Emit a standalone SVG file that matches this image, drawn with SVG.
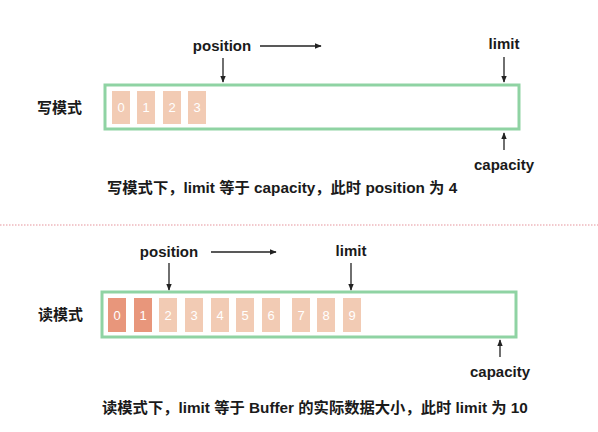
<svg xmlns="http://www.w3.org/2000/svg" width="598" height="432" viewBox="0 0 598 432">
<style>
.t{font-family:"Liberation Sans","Noto Sans CJK SC",sans-serif;font-weight:bold;font-size:15px;fill:#1a1a1a}
.cap{font-size:15.3px}
.c{fill:#f2cbb4}
.d{fill:#e8967b}
.n{font-family:"Liberation Sans",sans-serif;font-size:13px;fill:#fff;text-anchor:middle}
.box{fill:none;stroke:#8fd3a3;stroke-width:3}
.a{stroke:#222;stroke-width:1.3;fill:none}
</style>
<defs>
<marker id="ah" viewBox="0 0 10 10" refX="9" refY="5" markerWidth="7" markerHeight="7" orient="auto" markerUnits="userSpaceOnUse">
<path d="M0,1 L10,5 L0,9 z" fill="#222"/>
</marker>
</defs>
<rect width="598" height="432" fill="#fff"/>

<g id="write-mode">
<text class="t" x="37" y="113" font-size="16">写模式</text>
<rect class="box" x="105" y="85" width="414" height="44"/>
<g id="w-cells">
<rect class="c" x="112" y="91" width="18" height="33"/><text class="n" x="121" y="112">0</text>
<rect class="c" x="137" y="91" width="18" height="33"/><text class="n" x="146" y="112">1</text>
<rect class="c" x="163" y="91" width="18" height="33"/><text class="n" x="172" y="112">2</text>
<rect class="c" x="188" y="91" width="18" height="33"/><text class="n" x="197" y="112">3</text>
</g>
<text class="t" x="222" y="51" text-anchor="middle">position</text>
<text class="t" x="504" y="49" text-anchor="middle">limit</text>
<text class="t" x="504" y="170" text-anchor="middle">capacity</text>
<text class="t cap" x="107" y="193">写模式下，limit 等于 capacity，此时 position 为 4</text>
</g>

<line x1="0" y1="225" x2="598" y2="225" stroke="#e5939b" stroke-width="1" stroke-dasharray="1.5,1.5"/>

<g id="read-mode">
<text class="t" x="38" y="320" font-size="16">读模式</text>
<rect class="box" x="102" y="292" width="414" height="45"/>
<g id="r-cells">
<rect class="d" x="108" y="298" width="18" height="34"/><text class="n" x="117" y="320">0</text>
<rect class="d" x="134" y="298" width="18" height="34"/><text class="n" x="143" y="320">1</text>
<rect class="c" x="159" y="298" width="18" height="34"/><text class="n" x="168" y="320">2</text>
<rect class="c" x="185" y="298" width="18" height="34"/><text class="n" x="194" y="320">3</text>
<rect class="c" x="211" y="298" width="18" height="34"/><text class="n" x="220" y="320">4</text>
<rect class="c" x="236" y="298" width="18" height="34"/><text class="n" x="245" y="320">5</text>
<rect class="c" x="262" y="298" width="18" height="34"/><text class="n" x="271" y="320">6</text>
<rect class="c" x="292" y="298" width="18" height="34"/><text class="n" x="301" y="320">7</text>
<rect class="c" x="317" y="298" width="18" height="34"/><text class="n" x="326" y="320">8</text>
<rect class="c" x="343" y="298" width="18" height="34"/><text class="n" x="352" y="320">9</text>
</g>
<text class="t" x="169" y="257" text-anchor="middle">position</text>
<text class="t" x="351" y="256" text-anchor="middle">limit</text>
<text class="t" x="500" y="377" text-anchor="middle">capacity</text>
<text class="t cap" x="102" y="413">读模式下，limit 等于 Buffer 的实际数据大小，此时 limit 为 10</text>
</g>

<g id="connectors">
<line class="a" x1="260" y1="46" x2="321" y2="46" marker-end="url(#ah)"/>
<line class="a" x1="223" y1="58" x2="223" y2="82" marker-end="url(#ah)"/>
<line class="a" x1="504" y1="57" x2="504" y2="82" marker-end="url(#ah)"/>
<line class="a" x1="504" y1="150" x2="504" y2="133" marker-end="url(#ah)"/>
<line class="a" x1="211" y1="252" x2="276" y2="252" marker-end="url(#ah)"/>
<line class="a" x1="169" y1="263" x2="169" y2="290" marker-end="url(#ah)"/>
<line class="a" x1="351" y1="263" x2="351" y2="290" marker-end="url(#ah)"/>
<line class="a" x1="500" y1="357" x2="500" y2="340" marker-end="url(#ah)"/>
</g>
</svg>
